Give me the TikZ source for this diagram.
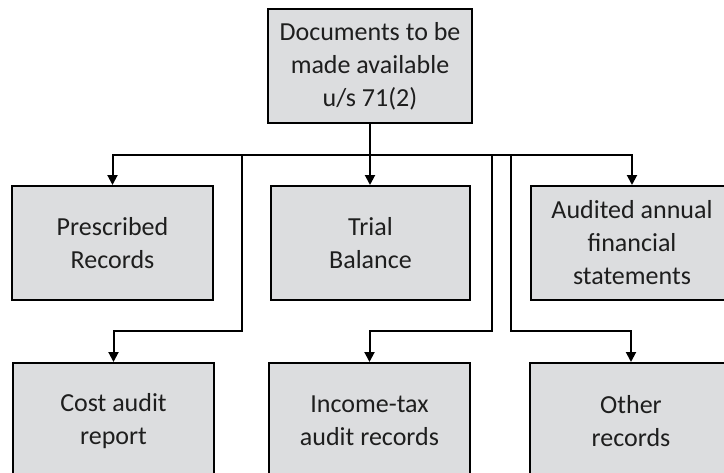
\documentclass[tikz,border=0pt]{standalone}
\usepackage{fontspec}
\setmainfont{Carlito}
\usetikzlibrary{arrows.meta}
\definecolor{boxgray}{HTML}{DCDDDF}
\definecolor{inkgray}{HTML}{1E1E1E}
\begin{document}
\begin{tikzpicture}[x=1pt,y=-1pt,
  box/.style={draw=black, line width=2pt, fill=boxgray, align=center,
    inner sep=0pt, text=inkgray, font=\fontsize{26}{33}\selectfont},
  link/.style={line width=2pt, line join=miter,
    -{Triangle[length=10pt,width=10pt]}}]
\useasboundingbox (0,0) rectangle (724,472);
\clip (0,0) rectangle (724,472);

% boxes
\node[box, minimum width=204pt, minimum height=114pt] (top) at (370,66)
  {Documents to be\\made available\\u/s 71(2)};
\node[box, minimum width=201pt, minimum height=114pt] (pres) at (112.5,243)
  {Prescribed\\Records};
\node[box, minimum width=199pt, minimum height=114pt] (trial) at (370.5,243)
  {Trial\\Balance};
\node[box, minimum width=202pt, minimum height=114pt] (aud) at (632,243)
  {Audited annual\\financial\\statements};
\node[box, minimum width=201pt, minimum height=116pt] (cost) at (113.5,421)
  {Cost audit\\report};
\node[box, minimum width=201pt, minimum height=116pt] (inc) at (369.5,421)
  {Income-tax\\audit records};
\node[box, minimum width=202pt, minimum height=116pt] (oth) at (631,421)
  {Other\\records};

% bus line and taps
\coordinate (busy) at (0,155);
\coordinate (tapA) at (242,155);
\coordinate (tapB) at (492,155);
\coordinate (tapC) at (511,155);
\coordinate (lowy) at (0,331);

\draw[link] (top.south) -- (top.south |- trial.north);
\draw[link] (top.south |- busy) -| (pres.north);
\draw[link] (top.south |- busy) -| (aud.north);
\draw[link] (tapA) -- (tapA |- lowy) -| (cost.north);
\draw[link] (tapB) -- (tapB |- lowy) -| (inc.north);
\draw[link] (tapC) -- (tapC |- lowy) -| (oth.north);
\end{tikzpicture}
\end{document}
